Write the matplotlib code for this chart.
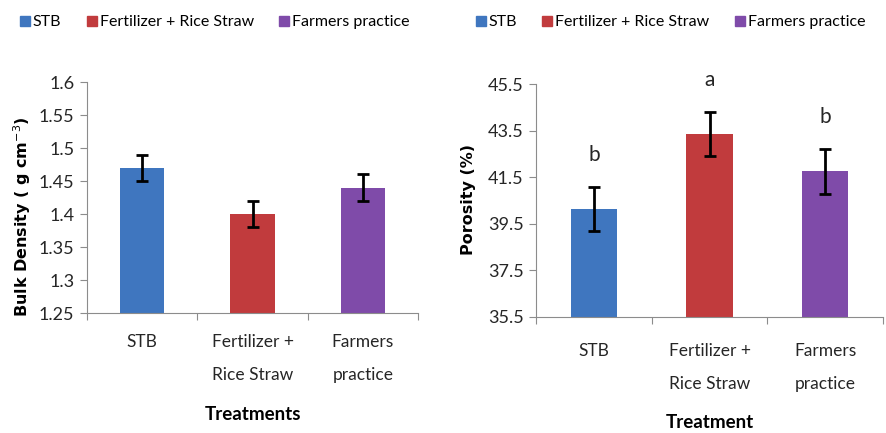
"""Bulk density and porosity under three treatments."""
import numpy as np
import matplotlib
matplotlib.use('Agg')
import matplotlib.pyplot as plt
from matplotlib.lines import Line2D

plt.rcParams.update({
    'font.family': ['Lato', 'DejaVu Sans'],
    'font.size': 12,
    'axes.edgecolor': '#8c8c8c',
    'xtick.color': '#8c8c8c',
    'ytick.color': '#8c8c8c',
    'xtick.labelcolor': '#262626',
    'ytick.labelcolor': '#262626',
})

treatments = ['STB', 'Fertilizer + Rice Straw', 'Farmers practice']
tick_labels = ['STB', 'Fertilizer +\nRice Straw', 'Farmers\npractice']
colors = ['#3F76BF', '#C13B3D', '#7F4BA9']

bulk_density = [1.47, 1.40, 1.44]
bulk_density_err = [0.02, 0.02, 0.02]
bd_ticks = [1.25, 1.3, 1.35, 1.4, 1.45, 1.5, 1.55, 1.6]

porosity = [40.15, 43.35, 41.75]
porosity_err = [0.95, 0.95, 0.95]
porosity_letters = ['b', 'a', 'b']
por_ticks = [35.5, 37.5, 39.5, 41.5, 43.5, 45.5]


def draw_panel(ax, values, errs, yticks, ylabel, xlabel, tick_pad, ylab_pos,
               xlab_y, letters=None):
    x = np.arange(len(values)) + 0.5
    ax.bar(x, [v - yticks[0] for v in values], bottom=yticks[0], width=0.4,
           color=colors, zorder=2)
    ax.errorbar(x, values, yerr=errs, fmt='none', ecolor='black',
                elinewidth=2, capsize=4, capthick=2, zorder=3)
    if letters:
        for xi, v, e, lab in zip(x, values, errs, letters):
            ax.annotate(lab, (xi, v + e), xytext=(0, 23), textcoords='offset points',
                        ha='center', va='center', fontsize=15, color='#262626')
    ax.set_xlim(0, len(values))
    ax.set_ylim(yticks[0], yticks[-1])
    ax.set_yticks(yticks)
    ax.set_yticklabels([f'{t:g}' for t in yticks], fontsize=13)
    ax.set_xticks(np.arange(len(values) + 1))
    ax.set_xticklabels([])
    ax.set_xticks(x, minor=True)
    ax.set_xticklabels(tick_labels, minor=True, fontsize=12.5, linespacing=2.3)
    ax.tick_params(axis='x', which='minor', length=0, pad=tick_pad)
    ax.tick_params(axis='x', which='major', length=5, direction='out')
    ax.tick_params(axis='y', length=5, direction='out', pad=4)
    for s in ['top', 'right']:
        ax.spines[s].set_visible(False)
    ax.set_ylabel(ylabel, fontweight='bold', fontsize=11.5,
                  family=['DejaVu Sans'], va='center')
    ax.yaxis.set_label_coords(*ylab_pos)
    ax.set_xlabel(xlabel, fontweight='bold', fontsize=13.5, va='center')
    ax.xaxis.set_label_coords(0.5, xlab_y)


fig = plt.figure(figsize=(8.86, 4.33), dpi=100)
ax1 = fig.add_axes([0.0982, 0.2771, 0.3736, 0.5335])
ax2 = fig.add_axes([0.605, 0.2679, 0.3916, 0.538])

draw_panel(ax1, bulk_density, bulk_density_err, bd_ticks,
           'Bulk Density ( g cm$^{-3}$)', 'Treatments', 15, (-0.196, 0.418), -0.44)
draw_panel(ax2, porosity, porosity_err, por_ticks,
           'Porosity (%)', 'Treatment', 19, (-0.196, 0.506), -0.455,
           porosity_letters)

handles = [Line2D([], [], marker='s', linestyle='none', color=c, markersize=7)
           for c in colors]
for cx in [0.2415, 0.756]:
    fig.legend(handles, treatments, loc='center', bbox_to_anchor=(cx, 0.949),
               ncol=3, frameon=False, fontsize=11.5, handletextpad=0.1,
               columnspacing=1.5, handlelength=0.8)

fig.savefig('out.png', dpi=100)
